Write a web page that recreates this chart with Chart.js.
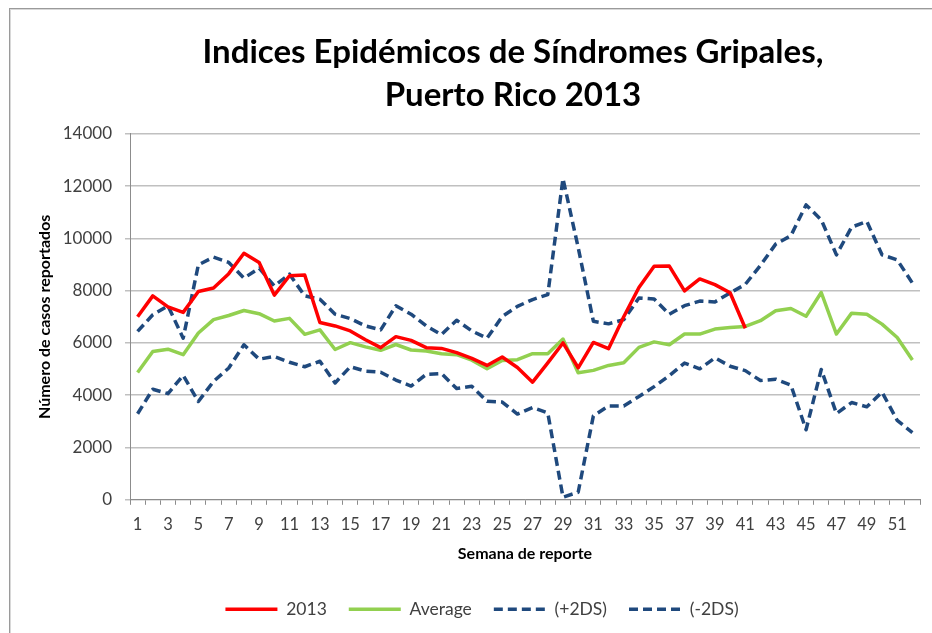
<!DOCTYPE html>
<html>
<head>
<meta charset="utf-8">
<script src="https://cdn.jsdelivr.net/npm/chart.js@4/dist/chart.umd.min.js"></script>
<style>
  html, body { margin: 0; padding: 0; background: #fff; overflow: hidden; }
  #marco { position: absolute; left: 9px; top: 8px; width: 1000px; height: 700px; border: 1px solid #9a9a9a; box-shadow: 1px 1px 0 #d8d8d8 inset; }
  #myChart { position: absolute; left: 0; top: 0; }
</style>
</head>
<body>
<div id="marco"></div>
<canvas id="myChart" width="932" height="633"></canvas>
<script>
'use strict';

// semanas epidemiologicas
const semanas = ['1','2','3','4','5','6','7','8','9','10','11','12','13','14','15','16','17','18','19','20',
    '21','22','23','24','25','26','27','28','29','30','31','32','33','34','35','36','37','38','39','40',
    '41','42','43','44','45','46','47','48','49','50','51','52'];

// casos 2013 (hasta semana 41)
const casos2013 = [7000, 7800, 7380, 7170, 7970, 8100, 8650, 9430, 9080, 7830,
    8570, 8600, 6780, 6650, 6460, 6120, 5820, 6240, 6100, 5820,
    5790, 5630, 5410, 5140, 5460, 5060, 4500, 5240, 6000, 5050,
    6020, 5780, 7000, 8120, 8930, 8940, 7990, 8450, 8230, 7920, 6560];

const promedio = [4870, 5670, 5760, 5550, 6380, 6890, 7050, 7240, 7120, 6840,
    6940, 6330, 6500, 5750, 6010, 5850, 5720, 5940, 5730, 5690,
    5590, 5550, 5340, 5010, 5330, 5360, 5590, 5590, 6150, 4860,
    4950, 5140, 5240, 5830, 6040, 5930, 6340, 6340, 6530, 6590,
    6630, 6850, 7230, 7320, 7020, 7930, 6340, 7140, 7100, 6720, 6210, 5350];

const mas2DS = [6440, 7080, 7420, 6180, 8990, 9280, 9080, 8480, 8860, 8180,
    8630, 7800, 7670, 7100, 6930, 6650, 6500, 7420, 7100, 6650,
    6320, 6870, 6460, 6180, 7010, 7400, 7660, 7850, 12290, 9650,
    6830, 6730, 6890, 7720, 7680, 7100, 7425, 7600, 7570, 7910,
    8240, 8970, 9780, 10100, 11280, 10710, 9370, 10430, 10650, 9370, 9180, 8290];

const menos2DS = [3290, 4230, 4060, 4760, 3760, 4530, 5040, 5930, 5380, 5480,
    5260, 5090, 5300, 4470, 5090, 4920, 4880, 4580, 4350, 4800,
    4830, 4260, 4340, 3770, 3740, 3280, 3530, 3320, 100, 290,
    3210, 3590, 3590, 3950, 4330, 4750, 5230, 5010, 5430, 5110,
    4940, 4560, 4615, 4390, 2680, 4985, 3300, 3720, 3555, 4120, 3040, 2570];

const yMin = 0;
const yMax = 14000;
const yPaso = 2000;

const fuente = 'Lato';
const gris = '#404040';

const config = {
    type: 'line',
    data: {
        labels: semanas,
        datasets: [
            {
                label: '2013',
                data: casos2013,
                borderColor: '#ff0000',
                backgroundColor: '#ff0000',
                borderWidth: 3.5
            },
            {
                label: 'Average',
                data: promedio,
                borderColor: '#92d050',
                backgroundColor: '#92d050',
                borderWidth: 3.5
            },
            {
                label: '(+2DS)',
                data: mas2DS,
                borderColor: '#1f497d',
                backgroundColor: '#1f497d',
                borderDash: [9, 5],
                borderWidth: 3.5
            },
            {
                label: '(-2DS)',
                data: menos2DS,
                borderColor: '#1f497d',
                backgroundColor: '#1f497d',
                borderDash: [9, 5],
                borderWidth: 3.5
            }
        ]
    },
    options: {
        responsive: false,
        animation: false,
        elements: {
            point: { radius: 0 },
            line: { tension: 0, borderJoinStyle: 'round' }
        },
        layout: {
            padding: { left: 44, right: 12, top: 0, bottom: 5 }
        },
        plugins: {
            title: {
                display: true,
                fullSize: false,
                // espacios al final para centrar como en el original
                text: ['Indices Epidémicos de Síndromes Gripales,   ', 'Puerto Rico 2013   '],
                color: '#000',
                font: { family: fuente, size: 33, weight: 'bold', lineHeight: 1.3 },
                padding: { top: 31, bottom: 17 }
            },
            legend: {
                position: 'bottom',
                labels: {
                    usePointStyle: true,
                    pointStyle: 'line',
                    pointStyleWidth: 52,
                    boxHeight: 16,
                    padding: 22,
                    color: gris,
                    font: { family: fuente, size: 17.5 },
                    generateLabels: chart => {
                        const items = Chart.defaults.plugins.legend.labels.generateLabels(chart);
                        items.forEach(it => {
                            const ds = chart.data.datasets[it.datasetIndex];
                            it.lineDash = ds.borderDash || [];
                            it.lineWidth = ds.borderWidth;
                            it.strokeStyle = ds.borderColor;
                        });
                        return items;
                    }
                }
            },
            tooltip: { enabled: false }
        },
        scales: {
            x: {
                offset: true,
                grid: { offset: true, drawOnChartArea: false, tickLength: 5, color: '#8c8c8c' },
                border: { color: '#8c8c8c' },
                ticks: {
                    autoSkip: false,
                    maxRotation: 0,
                    padding: 10,
                    color: gris,
                    font: { family: fuente, size: 16.5 },
                    callback: function (v, i) {
                        return i % 2 === 0 ? this.getLabelForValue(v) : '';
                    }
                },
                title: {
                    display: true,
                    text: 'Semana de reporte',
                    color: '#000',
                    font: { family: fuente, size: 16, weight: 'bold' },
                    padding: { top: 4, bottom: 15 }
                },
                afterFit: s => { s.height = 78.7; }
            },
            y: {
                min: yMin,
                max: yMax,
                grid: { color: '#c0c0c0', lineWidth: 1.5, tickLength: 5 },
                border: { color: '#8c8c8c' },
                ticks: {
                    stepSize: yPaso,
                    padding: 13,
                    color: gris,
                    font: { family: fuente, size: 17 },
                    callback: v => String(v)
                },
                title: {
                    display: true,
                    text: 'Número de casos reportados',
                    color: '#000',
                    font: { family: fuente, size: 16, weight: 'bold' },
                    padding: { top: -8.6, bottom: 0 }
                },
                afterFit: s => { s.width = 86; }
            }
        }
    }
};

const myChart = new Chart(document.getElementById('myChart'), config);
</script>
</body>
</html>
